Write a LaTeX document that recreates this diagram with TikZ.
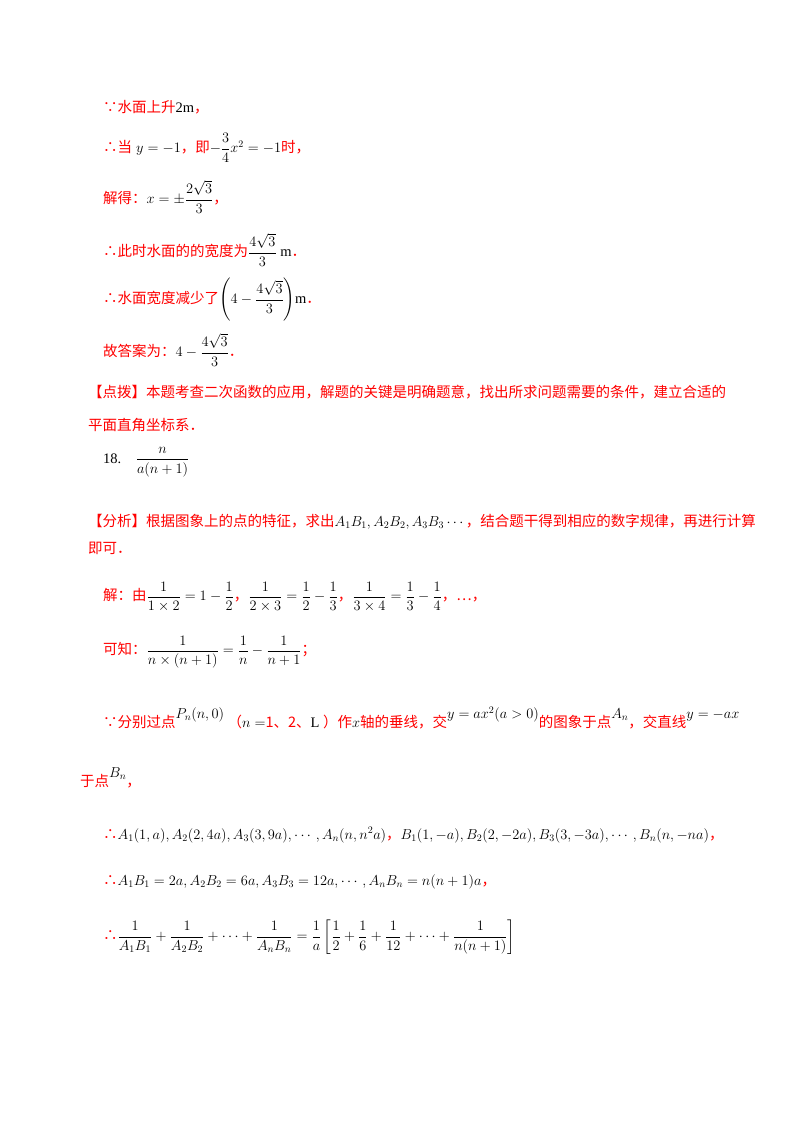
\documentclass[tikz,border=0pt]{standalone}
\usepackage{amsmath}
\usepackage{fontspec}
\setmainfont{Liberation Serif}
\newfontfamily\cjk{Noto Sans CJK SC}
\begin{document}
\begin{tikzpicture}[x=1pt,y=1pt,
  txt/.style={anchor=west,inner sep=0pt,font=\fontsize{14.5}{17}\selectfont},
  rd/.style={txt,text=red}]
\useasboundingbox[fill=white] (0,0) rectangle (800,-1132);
\newcommand{\C}[1]{\textcolor{red}{\cjk #1}}
\newcommand{\R}[1]{\raisebox{9pt}{$#1$}}
\node[txt] (l1) at (103,-107) {\C{∵水面上升}2m\C{，}};
\node[txt] (l2) at (103,-148) {\C{∴当}$\;y=-1$\C{，即}$-\dfrac{3}{4}x^2=-1$\C{时，}};
\node[txt] (l3) at (103,-197) {\C{解得：}$x=\pm\dfrac{2\sqrt3}{3}$\C{，}};
\node[txt] (l4) at (103,-250) {\C{∴此时水面的的宽度为}$\dfrac{4\sqrt3}{3}$ m\C{．}};
\node[txt] (l5) at (103,-300) {\C{∴水面宽度减少了}$\left(4-\dfrac{4\sqrt3}{3}\right)$m\C{．}};
\node[txt] (l6) at (103,-350) {\C{故答案为：}$4-\dfrac{4\sqrt3}{3}$\C{．}};
\node[txt] (l7) at (88,-392) {\C{【点拨】本题考查二次函数的应用，解题的关键是明确题意，找出所求问题需要的条件，建立合适的}};
\node[txt] (l8) at (88,-425) {\C{平面直角坐标系．}};
\node[txt] (l9) at (103,-462) {18.\quad$\dfrac{n}{a(n+1)}$};
\node[txt] (l10) at (88,-522) {\C{【分析】根据图象上的点的特征，求出}$A_1B_1,A_2B_2,A_3B_3\cdots$\C{，结合题干得到相应的数字规律，再进行计算}};
\node[txt] (l11) at (88,-548) {\C{即可．}};
\node[txt] (l12) at (103,-597) {\C{解：由}$\dfrac{1}{1\times2}=1-\dfrac12$\C{，}$\dfrac{1}{2\times3}=\dfrac12-\dfrac13$\C{，}$\dfrac{1}{3\times4}=\dfrac13-\dfrac14$\C{，…，}};
\node[txt] (l13) at (103,-652) {\C{可知：}$\dfrac{1}{n\times(n+1)}=\dfrac1n-\dfrac{1}{n+1}$\C{；}};
\node[txt] (l14) at (103,-718) {\C{∵分别过点}\R{P_n(n,0)}\ \C{（}$n=$\C{1、2、}L\ \C{）作}$x$\C{轴的垂线，交}\R{y=ax^2(a>0)}\C{的图象于点}\R{A_n}\C{，交直线}\R{y=-ax}};
\node[txt] (l15) at (80,-778) {\C{于点}\R{B_n}\C{，}};
\node[txt] (l16) at (103,-835) {\C{∴}$A_1(1,a),A_2(2,4a),A_3(3,9a),\cdots,A_n(n,n^2a)$\C{，}$B_1(1,-a),B_2(2,-2a),B_3(3,-3a),\cdots,B_n(n,-na)$\C{，}};
\node[txt] (l17) at (103,-882) {\C{∴}$A_1B_1=2a,A_2B_2=6a,A_3B_3=12a,\cdots,A_nB_n=n(n+1)a$\C{，}};
\node[txt] (l18) at (103,-937) {\C{∴}$\dfrac{1}{A_1B_1}+\dfrac{1}{A_2B_2}+\cdots+\dfrac{1}{A_nB_n}=\dfrac1a\left[\dfrac12+\dfrac16+\dfrac1{12}+\cdots+\dfrac{1}{n(n+1)}\right]$};
\end{tikzpicture}
\end{document}
